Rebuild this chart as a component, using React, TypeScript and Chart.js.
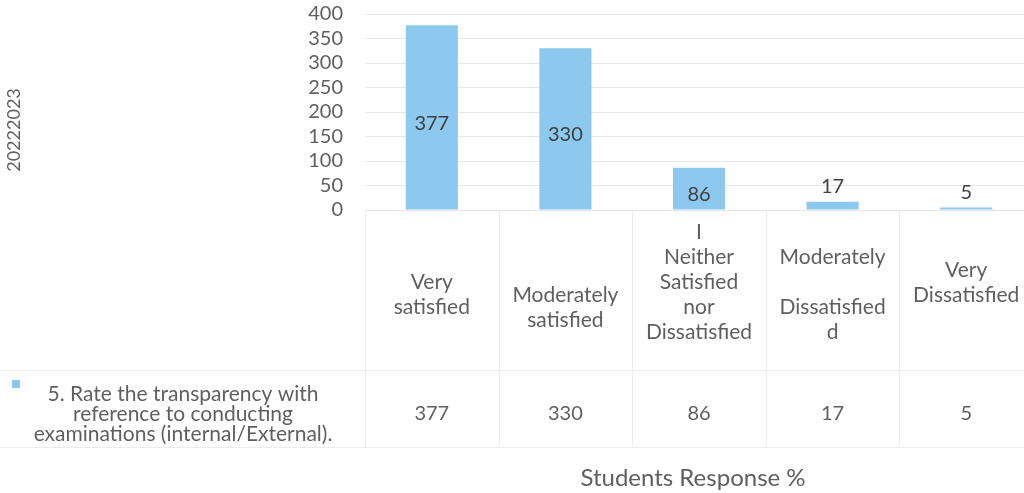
import React, { useEffect, useRef } from "react";
import { Chart, registerables } from "chart.js";

Chart.register(...registerables);

const categories: string[][] = [
  ["Very", "satisfied"],
  ["", "Moderately", "satisfied"],
  ["I", "Neither", "Satisfied", "nor", "Dissatisfied", ""],
  ["Moderately", "", "Dissatisfied", "d"],
  ["Very", "Dissatisfied", ""],
];
const values: number[] = [377, 330, 86, 17, 5];
const seriesLabel: string[] = [
  "5. Rate the transparency with",
  "reference to conducting",
  "examinations (internal/External).",
];
const yAxisTitle = "20222023";
const xAxisTitle = "Students Response %";
const yTicksMax = 400;
const yTicksStep = 50;

const FONT = "Lato, 'Open Sans', sans-serif";
const TEXT = "#5f5f5f";
const BAR = "#8dc8ee";
const LINE = "#ececec";

const tablePlugin = {
  id: "dataTable",
  afterDraw(chart: any) {
    const ctx = chart.ctx as CanvasRenderingContext2D;
    const area = chart.chartArea;
    const xs = chart.scales.x;
    const n = categories.length;
    const colW = (area.right - area.left) / n;
    const tableBottom = 447;
    const rowSplit = 370;

    ctx.save();
    ctx.strokeStyle = LINE;
    ctx.lineWidth = 1;
    for (let i = 0; i <= n; i++) {
      const x = Math.round(area.left + i * colW) + 0.5;
      ctx.beginPath();
      ctx.moveTo(x, area.bottom);
      ctx.lineTo(x, tableBottom);
      ctx.stroke();
    }
    [rowSplit, tableBottom].forEach((y) => {
      ctx.beginPath();
      ctx.moveTo(0, y + 0.5);
      ctx.lineTo(area.right, y + 0.5);
      ctx.stroke();
    });

    const meta = chart.getDatasetMeta(0);
    ctx.font = `20px ${FONT}`;
    ctx.fillStyle = "#3f3f3f";
    ctx.textAlign = "center";
    ctx.textBaseline = "middle";
    meta.data.forEach((el: any, i: number) => {
      const h = el.base - el.y;
      const y = h > 30 ? (el.y + el.base) / 2 + 6 : el.y - 15;
      ctx.fillText(String(values[i]), el.x, y);
    });

    ctx.fillStyle = TEXT;
    ctx.font = `21px ${FONT}`;
    const lh = 25;
    const midY = 295;
    categories.forEach((lines, i) => {
      const cx = xs.getPixelForValue(i);
      const startY = midY - ((lines.length - 1) * lh) / 2;
      lines.forEach((t, j) => ctx.fillText(t, cx, startY + j * lh));
    });

    ctx.font = `20px ${FONT}`;
    values.forEach((v, i) => {
      ctx.fillText(String(v), xs.getPixelForValue(i), 414);
    });

    ctx.fillStyle = BAR;
    ctx.fillRect(12, 380, 8, 8);
    ctx.fillStyle = TEXT;
    ctx.font = `21px ${FONT}`;
    seriesLabel.forEach((t, j) => ctx.fillText(t, 183, 394 + j * 20));

    ctx.font = `24px ${FONT}`;
    ctx.fillText(xAxisTitle, (area.left + area.right) / 2 - 6, 478);

    ctx.save();
    ctx.translate(14, 130);
    ctx.rotate(-Math.PI / 2);
    ctx.font = `18px ${FONT}`;
    ctx.fillText(yAxisTitle, 0, 0);
    ctx.restore();

    ctx.restore();
  },
};

export default function App() {
  const ref = useRef<HTMLCanvasElement>(null);
  useEffect(() => {
    document.body.style.margin = "0";
    document.body.style.overflow = "hidden";
    const chart = new Chart(ref.current!, {
      type: "bar",
      data: {
        labels: categories.map((c) => c.filter((t) => t).join(" ")),
        datasets: [
          {
            label: seriesLabel.join(" "),
            data: values,
            backgroundColor: BAR,
            borderWidth: 0,
            barPercentage: 0.39,
            categoryPercentage: 1,
          },
        ],
      },
      options: {
        responsive: false,
        animation: false,
        layout: { padding: { left: 0, top: 14, right: 7, bottom: 283 } },
        plugins: { legend: { display: false }, tooltip: { enabled: false } },
        scales: {
          x: { display: false },
          y: {
            min: 0,
            max: yTicksMax,
            afterFit: (s: any) => {
              s.width = 365;
              s.paddingTop = 0;
              s.paddingBottom = 0;
            },
            ticks: {
              stepSize: yTicksStep,
              autoSkip: false,
              padding: 22,
              color: TEXT,
              font: { family: FONT, size: 20 },
            },
            grid: { color: "#e6e6e6", drawTicks: false },
            border: { display: false },
          },
        },
      },
      plugins: [tablePlugin],
    });
    return () => chart.destroy();
  }, []);
  return (
    <div
      style={{
        position: "fixed",
        left: 0,
        top: 0,
        width: 1024,
        height: 493,
        overflow: "hidden",
        background: "#fff",
      }}
    >
      <canvas ref={ref} width={1040} height={493} style={{ display: "block" }} />
    </div>
  );
}
